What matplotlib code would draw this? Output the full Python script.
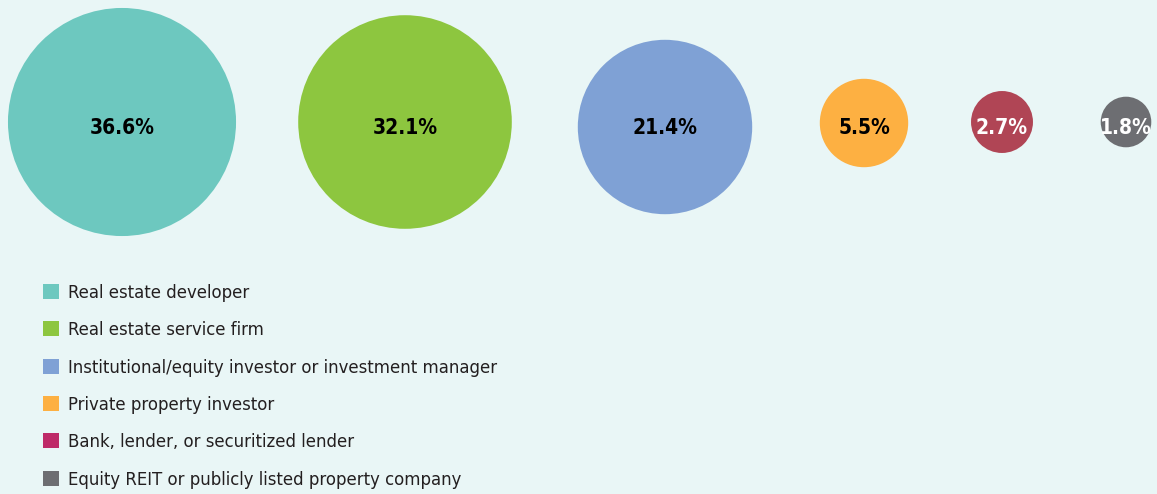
import numpy as np
import matplotlib.pyplot as plt
from matplotlib.patches import Circle, Rectangle

categories = [
    "Real estate developer",
    "Real estate service firm",
    "Institutional/equity investor or investment manager",
    "Private property investor",
    "Bank, lender, or securitized lender",
    "Equity REIT or publicly listed property company",
]
shares = [36.6, 32.1, 21.4, 5.5, 2.7, 1.8]
labels = ["36.6%", "32.1%", "21.4%", "5.5%", "2.7%", "1.8%"]

circle_colors = ["#6dc8bf", "#8dc63f", "#7fa1d5", "#fdb042", "#b04555", "#6d6e72"]
legend_colors = ["#6dc8bf", "#8dc63f", "#7fa1d5", "#fdb042", "#be2a68", "#6d6e72"]
label_colors = ["black", "black", "black", "black", "white", "white"]

# layout (pixels)
centers_x = [122, 405, 665, 864, 1002, 1126]
centers_y = [122, 122, 127, 123, 122, 122]
label_y = 128
scale = 18.85  # radius = scale * sqrt(share)

plt.rcParams['font.family'] = ["DejaVu Sans"]

bg = "#e9f6f6"
fig = plt.figure(figsize=(11.57, 4.94), dpi=100, facecolor=bg)
ax = fig.add_axes([0, 0, 1, 1])
ax.set_facecolor(bg)
ax.set_xlim(0, 1157)
ax.set_ylim(494, 0)
ax.set_aspect('equal')
ax.axis('off')

# bubbles, area proportional to share
for x, y, v, c, lab, tc in zip(centers_x, centers_y, shares, circle_colors, labels, label_colors):
    r = scale * np.sqrt(v)
    ax.add_patch(Circle((x, y), r, color=c, lw=0))
    ax.text(x, label_y, lab, ha='center', va='center', fontsize=15,
            fontweight='bold', color=tc, fontstretch='condensed')

# legend
leg_y = [292, 329, 367, 404, 441, 479]
for y, c, name in zip(leg_y, legend_colors, categories):
    ax.add_patch(Rectangle((43, y - 8), 16, 15, color=c, lw=0))
    ax.text(68, y + 1, name, ha='left', va='center', fontsize=13.2, color="#231f20",
            fontstretch='condensed')

fig.savefig("out.png", dpi=100, facecolor=bg)
